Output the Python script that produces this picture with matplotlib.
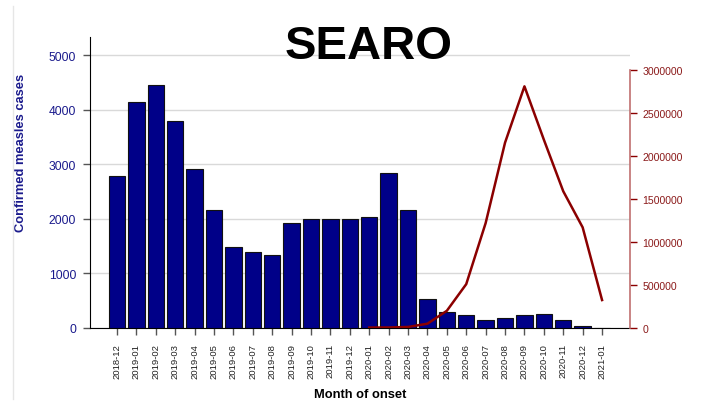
import matplotlib
matplotlib.use("Agg")
import matplotlib.pyplot as plt
from matplotlib.lines import Line2D
import numpy as np

plt.rcParams['font.family'] = ['Liberation Sans', 'DejaVu Sans']

months = ["2018-12", "2019-01", "2019-02", "2019-03", "2019-04", "2019-05",
          "2019-06", "2019-07", "2019-08", "2019-09", "2019-10", "2019-11",
          "2019-12", "2020-01", "2020-02", "2020-03", "2020-04", "2020-05",
          "2020-06", "2020-07", "2020-08", "2020-09", "2020-10", "2020-11",
          "2020-12", "2021-01"]
measles_cases = [2790, 4140, 4450, 3790, 2910, 2170, 1490, 1390, 1330, 1920,
                 2000, 2005, 1995, 2040, 2840, 2170, 525, 300, 240, 140,
                 175, 240, 265, 150, 30, 0]
line_months = ["2020-01", "2020-02", "2020-03", "2020-04", "2020-05", "2020-06",
               "2020-07", "2020-08", "2020-09", "2020-10", "2020-11", "2020-12",
               "2021-01"]
line_values = [5000, 6000, 12000, 50000, 200000, 510000, 1220000, 2155000,
               2810000, 2190000, 1590000, 1170000, 325000]
left_ticks = [0, 1000, 2000, 3000, 4000, 5000]
right_ticks = [0, 500000, 1000000, 1500000, 2000000, 2500000, 3000000]

W, H = 704, 402
fig = plt.figure(figsize=(W / 100, H / 100), dpi=100)
x0, x1 = 90, 630
ytop, ybot = 38, 329
ax = fig.add_axes([x0 / W, (H - ybot) / H, (x1 - x0) / W, (ybot - ytop) / H])

x = np.arange(len(months))
ax.bar(x, measles_cases, width=0.85, color='#000088', edgecolor='#111111',
       linewidth=0.8, zorder=3)
ax.set_xlim(-1.39, 26.44)
ax.set_ylim(0, 5330)
ax.set_yticks(left_ticks)
ax.set_yticklabels([str(t) for t in left_ticks], color='#1a1a8c', fontsize=8.7)
ax.set_xticks(x)
ax.set_xticklabels(months, rotation=90, fontsize=6.8, color='#222222')
ax.tick_params(axis='y', length=5, width=1, color='#555555', pad=5)
ax.tick_params(axis='x', length=5, width=1, color='#555555', pad=6)
ax.grid(axis='y', color='#d9d9d9', linewidth=1, zorder=0)
ax.set_axisbelow(True)
for s in ['top', 'right']:
    ax.spines[s].set_visible(False)
ax.spines['left'].set_color('black')
ax.spines['bottom'].set_color('black')
ax.set_ylabel('Confirmed measles cases', color='#1a1a8c', fontsize=9.3,
              fontweight='bold')
ax.yaxis.set_label_coords((27 - x0) / (x1 - x0), (ybot - 153) / (ybot - ytop))
ax.set_xlabel('Month of onset', fontsize=9.3, fontweight='bold', labelpad=7)

ax2 = ax.twinx()
lx = [months.index(m) for m in line_months]
ax2.plot(lx, line_values, color='#8b0000', linewidth=1.8, zorder=4)
ax2.set_ylim(0, 3e6 * (ybot - ytop) / (329 - 71))
ax2.set_yticks(right_ticks)
ax2.set_yticklabels([str(t) for t in right_ticks], color='#8b1a1a', fontsize=7.6)
ax2.tick_params(axis='y', length=5, width=1, color='#8b0000', pad=4)
for s in ['top', 'left', 'bottom']:
    ax2.spines[s].set_visible(False)
ax2.spines['right'].set_color('#c07070')
ax2.spines['right'].set_linewidth(1.2)
ax2.spines['right'].set_bounds(0, 3e6)

fig.text(369 / W, 1 - 47 / H, 'SEARO', fontsize=34, fontweight='bold',
         ha='center', va='center', color='black')
fig.add_artist(Line2D([13 / W, 13 / W], [1 - 7 / H, 1 - 400 / H],
                      transform=fig.transFigure, color='#e6e6e6', linewidth=1))

fig.savefig('out.png', dpi=100)
